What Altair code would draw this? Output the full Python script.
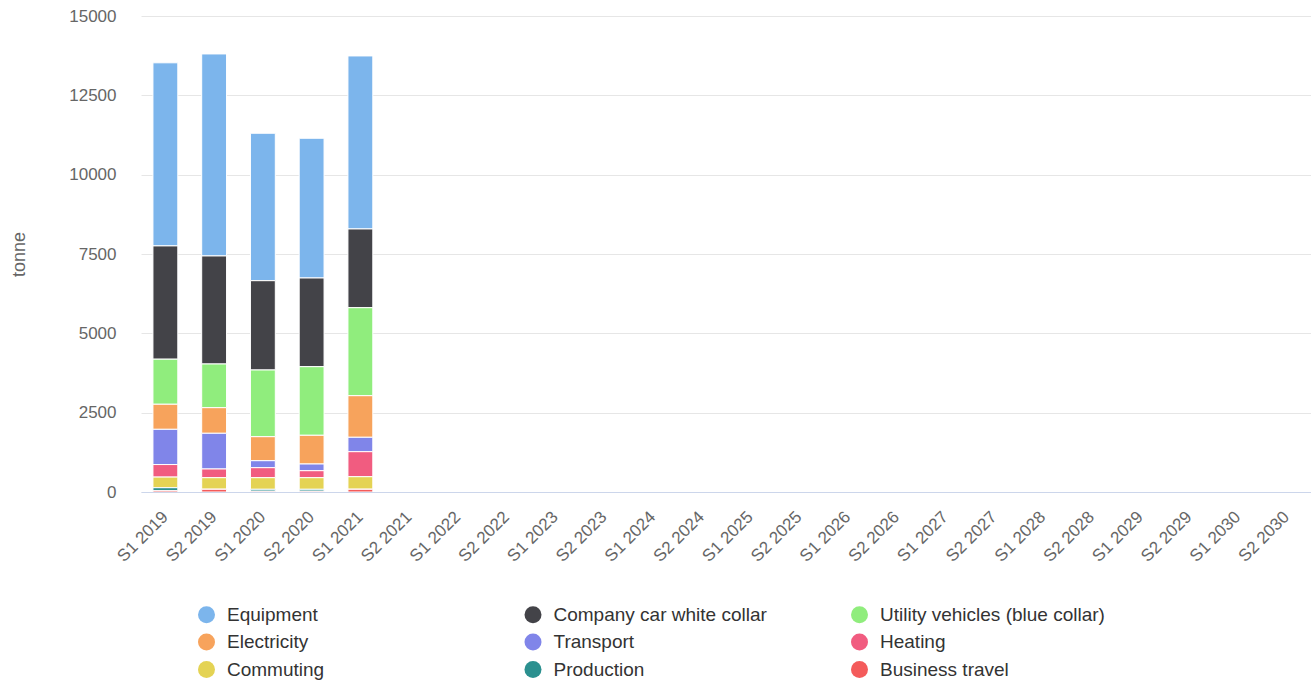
import altair as alt
import pandas as pd

periods = ["S1 2019", "S2 2019", "S1 2020", "S2 2020", "S1 2021", "S2 2021",
           "S1 2022", "S2 2022", "S1 2023", "S2 2023", "S1 2024", "S2 2024",
           "S1 2025", "S2 2025", "S1 2026", "S2 2026", "S1 2027", "S2 2027",
           "S1 2028", "S2 2028", "S1 2029", "S2 2029", "S1 2030", "S2 2030"]
data_periods = ["S1 2019", "S2 2019", "S1 2020", "S2 2020", "S1 2021"]

series = ["Equipment", "Company car white collar", "Utility vehicles (blue collar)",
          "Electricity", "Transport", "Heating", "Commuting", "Production", "Business travel"]
colors = ["#7cb5ec", "#434348", "#90ed7d", "#f7a35c", "#8085e9",
          "#f15c80", "#e4d354", "#2b908f", "#f45b5b"]

equipment = [5770, 6366, 4646, 4403, 5452]
company_car = [3570, 3404, 2814, 2795, 2481]
utility = [1420, 1377, 2102, 2162, 2773]
electricity = [790, 807, 757, 905, 1311]
transport = [1110, 1125, 220, 211, 454]
heating = [395, 274, 315, 220, 788]
commuting = [335, 366, 366, 366, 397]
production = [95, 0, 60, 60, 0]
business_travel = [40, 85, 25, 25, 85]

values = [equipment, company_car, utility, electricity, transport,
          heating, commuting, production, business_travel]

rows = []
for si, (name, vals) in enumerate(zip(series, values)):
    for p, v in zip(data_periods, vals):
        rows.append({"period": p, "series": name, "value": v,
                     "stack": len(series) - si})
df = pd.DataFrame(rows)

FONT = "Liberation Sans"

chart = alt.Chart(df).mark_bar(stroke="white", strokeWidth=1).encode(
    x=alt.X("period:N", sort=periods,
            scale=alt.Scale(domain=periods, paddingInner=0.49, paddingOuter=0.245),
            axis=alt.Axis(title=None, labelAngle=-45, labelAlign="right",
                          labelBaseline="middle", labelPadding=22, ticks=False,
                          tickSize=0, domainColor="#ccd6eb", domainWidth=1,
                          labelColor="#666666", labelFontSize=17, labelFont=FONT,
                          grid=False, zindex=1, labelOverlap=False)),
    y=alt.Y("value:Q", stack="zero",
            scale=alt.Scale(domain=[0, 15000], nice=False),
            axis=alt.Axis(title="tonne", values=[0, 2500, 5000, 7500, 10000, 12500, 15000],
                          format="d", ticks=False, tickSize=0, domain=False,
                          gridColor="#e6e6e6", gridWidth=1, labelPadding=25,
                          labelColor="#666666", labelFontSize=17, labelFont=FONT,
                          titleColor="#666666", titleFontSize=18, titleFont=FONT,
                          titleFontWeight="normal", titlePadding=40)),
    color=alt.Color("series:N",
                    scale=alt.Scale(domain=series, range=colors),
                    legend=alt.Legend(title=None, orient="none", legendX=56, legendY=589,
                                      columns=3, direction="horizontal",
                                      symbolType="circle", symbolSize=289,
                                      symbolStrokeWidth=0, symbolOpacity=1,
                                      labelFontSize=19, labelColor="#333333",
                                      labelFont=FONT, gridAlign="all",
                                      columnPadding=71.5, rowPadding=7.5,
                                      labelOffset=11, padding=0, labelLimit=400)),
    order=alt.Order("stack:Q", sort="ascending"),
    tooltip=["period", "series", "value"],
).properties(
    width=1170, height=476,
    padding={"left": 141, "top": 16, "right": 0, "bottom": 192},
    autosize=alt.AutoSizeParams(type="none"),
).configure(font=FONT).configure_view(stroke=None, strokeWidth=0)

chart.save("out.html", embed_options={"renderer": "svg", "actions": False})
